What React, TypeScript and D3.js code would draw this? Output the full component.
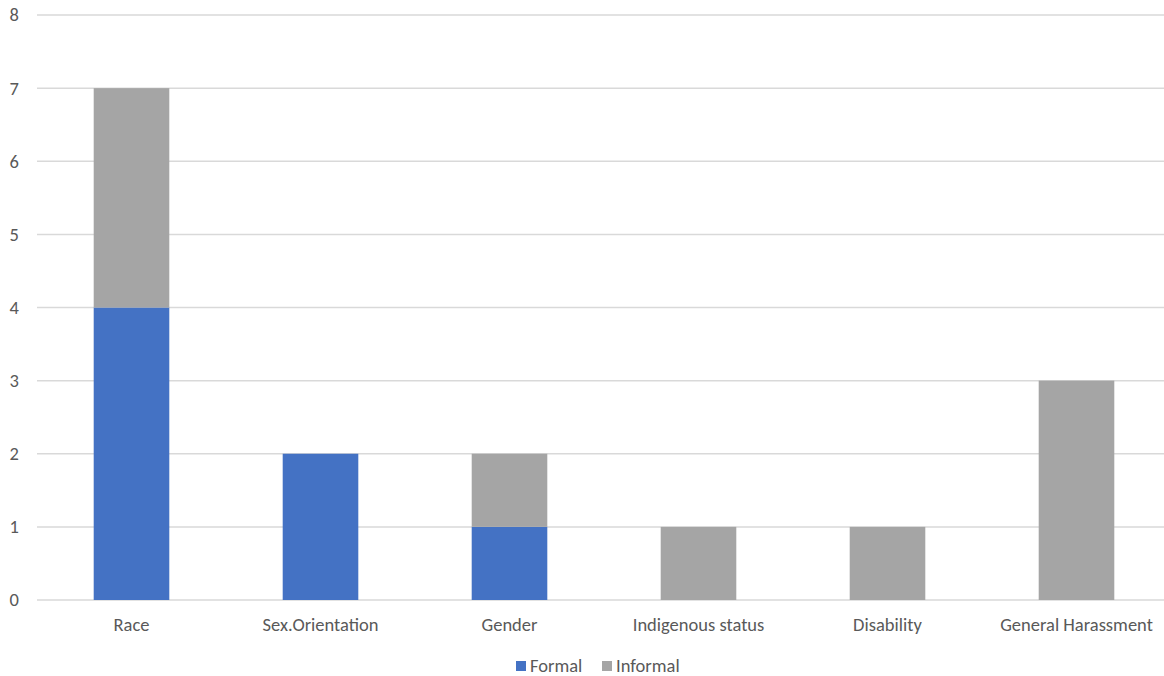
import React from "react";
import * as d3 from "d3";

const categories = ["Race", "Sex.Orientation", "Gender", "Indigenous status", "Disability", "General Harassment"];
const formal = [4, 2, 1, 0, 0, 0];
const informal = [3, 0, 1, 1, 1, 3];
const yTicks = [0, 1, 2, 3, 4, 5, 6, 7, 8];
const seriesNames = ["Formal", "Informal"];
const seriesColors = ["#4472C4", "#A5A5A5"];

export default function App() {
  const W = 1164, H = 676;
  const left = 37, right = 1171, top = 15, bottom = 600;
  const x = d3.scaleBand<string>().domain(categories).range([left, right]).paddingInner(0.6).paddingOuter(0.3);
  const y = d3.scaleLinear().domain([0, 8]).range([bottom, top]);
  const rows = categories.map((c, i) => ({ cat: c, Formal: formal[i], Informal: informal[i] }));
  const stack = d3.stack<any>().keys(seriesNames)(rows);
  const font = "Calibri, Carlito, Lato, sans-serif";
  const fs = 18.5;
  return (
    <svg width={W} height={H} style={{ position: "absolute", left: 0, top: 0, background: "#fff" }} fontFamily={font}>
      {yTicks.map((t) => (
        <g key={t}>
          <line x1={left} x2={W} y1={y(t)} y2={y(t)} stroke="#D9D9D9" strokeWidth={1.5} />
          <text x={19} y={y(t)} dy="0.35em" textAnchor="end" fontSize={fs} fill="#595959">{t}</text>
        </g>
      ))}
      {stack.map((s, si) => (
        <g key={s.key} fill={seriesColors[si]}>
          {s.map((d, i) =>
            d[1] - d[0] > 0 ? (
              <rect key={i} x={x(categories[i])} width={x.bandwidth()} y={y(d[1])} height={y(d[0]) - y(d[1])} />
            ) : null
          )}
        </g>
      ))}
      {categories.map((c) => (
        <text key={c} x={(x(c) as number) + x.bandwidth() / 2} y={631} textAnchor="middle" fontSize={fs} fill="#595959">{c}</text>
      ))}
      <g>
        <rect x={516} y={661} width={10} height={10} fill={seriesColors[0]} />
        <text x={530} y={672} fontSize={fs} fill="#595959">{seriesNames[0]}</text>
        <rect x={602} y={661} width={10} height={10} fill={seriesColors[1]} />
        <text x={616} y={672} fontSize={fs} fill="#595959">{seriesNames[1]}</text>
      </g>
    </svg>
  );
}
